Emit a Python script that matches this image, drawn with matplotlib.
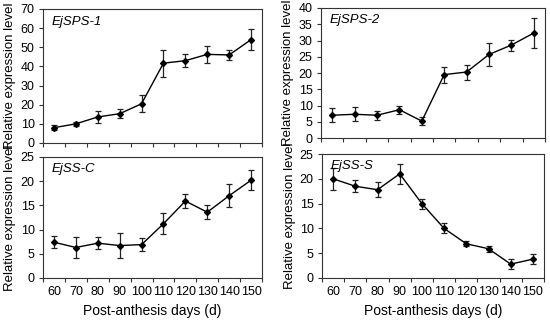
import matplotlib.pyplot as plt
import numpy as np

plt.rcParams['font.family'] = ['Liberation Sans', 'DejaVu Sans']

days = [60, 70, 80, 90, 100, 110, 120, 130, 140, 150]

sps1 = [8.0, 10.0, 13.6, 15.3, 20.5, 41.7, 43.0, 46.3, 46.0, 54.0]
sps1_err = [1.2, 1.2, 3.2, 2.5, 4.5, 7.0, 3.3, 4.5, 2.5, 5.3]

sps2 = [7.0, 7.3, 7.0, 8.7, 5.2, 19.5, 20.3, 25.7, 28.6, 32.3]
sps2_err = [2.1, 2.2, 1.4, 1.2, 1.2, 2.5, 2.3, 3.5, 1.7, 4.5]

ssc = [7.4, 6.3, 7.2, 6.7, 6.9, 11.2, 15.9, 13.6, 17.0, 20.2]
ssc_err = [1.3, 2.2, 1.3, 2.5, 1.3, 2.2, 1.5, 1.5, 2.4, 2.1]

sss = [20.0, 18.5, 17.8, 21.0, 15.0, 10.0, 6.9, 5.9, 2.8, 3.8]
sss_err = [2.2, 1.2, 1.5, 2.0, 1.0, 1.0, 0.5, 0.6, 1.0, 1.0]

W, H = 550, 321
fig = plt.figure(figsize=(W / 100, H / 100), dpi=100)


def box(l, r, t, b):
    return [l / W, 1 - b / H, (r - l) / W, (b - t) / H]


panels = [
    (box(43, 262, 9, 143), sps1, sps1_err, 'EjSPS-1', 70, 10, False),
    (box(321, 545, 8, 138), sps2, sps2_err, 'EjSPS-2', 40, 5, False),
    (box(43, 262, 157, 278), ssc, ssc_err, 'EjSS-C', 25, 5, True),
    (box(322, 544, 154, 278), sss, sss_err, 'EjSS-S', 25, 5, True),
]

x = np.arange(len(days))
for rect, vals, errs, name, ymax, step, show_x in panels:
    ax = fig.add_axes(rect)
    ax.errorbar(x, vals, yerr=errs, color='black', ecolor='#222222',
                elinewidth=0.9, capsize=2.5, capthick=0.9,
                marker='D', markersize=3, linewidth=1.0)
    ax.set_xlim(-0.5, len(days) - 0.5)
    ax.set_ylim(0, ymax)
    ax.set_yticks(np.arange(0, ymax + 1, step))
    # category axis: ticks sit between categories
    ax.set_xticks(np.arange(-0.5, len(days), 1.0))
    ax.set_xticklabels([])
    ax.set_xticks(x, minor=True)
    ax.tick_params(axis='x', which='minor', length=0, labelsize=9, pad=6)
    if show_x:
        ax.set_xticklabels([str(d) for d in days], minor=True)
        ax.set_xlabel('Post-anthesis days (d)', fontsize=10, labelpad=4)
    ax.tick_params(axis='both', which='major', direction='out', length=3,
                   width=0.8, color='#333333', labelsize=9, pad=3)
    ax.set_ylabel('Relative expression level', fontsize=9.5, labelpad=3)
    for s in ax.spines.values():
        s.set_color('#333333')
        s.set_linewidth(0.8)
    ax.text(0.04, 0.95, name, transform=ax.transAxes, style='italic',
            fontsize=9.5, ha='left', va='top')

fig.savefig('out.png', dpi=100)
